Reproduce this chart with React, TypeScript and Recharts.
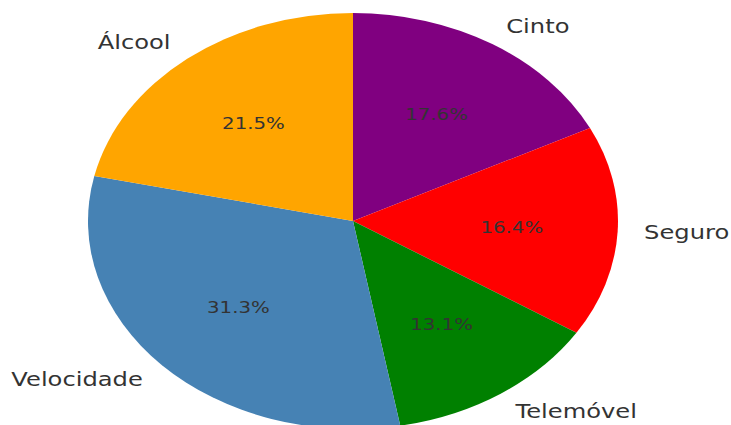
import React from 'react';
import { PieChart, Pie, Cell } from 'recharts';

const causes = ['Cinto', 'Seguro', 'Telemóvel', 'Velocidade', 'Álcool'];
const shares = [17.6, 16.4, 13.1, 31.3, 21.5];
const COLORS = ['#800080', '#ff0000', '#008000', '#4682b4', '#ffa500'];

const data = causes.map((name, i) => ({ name, value: shares[i] }));

// the original figure is stretched sideways, so the whole svg gets scaled on x
const SX = 1.274;
const W = 731;
const H = 425;
const RADIAN = Math.PI / 180;

const renderLabel = (props: any) => {
  const { cx, cy, midAngle, outerRadius, name, value } = props;
  const cos = Math.cos(-midAngle * RADIAN);
  const sin = Math.sin(-midAngle * RADIAN);
  const lx = cx + outerRadius * 1.1 * cos;
  const ly = cy + outerRadius * 1.1 * sin;
  const px = cx + outerRadius * 0.6 * cos;
  const py = cy + outerRadius * 0.6 * sin;
  return (
    <g>
      <text
        x={lx}
        y={ly}
        fill="#333"
        fontSize={19}
        fontFamily="DejaVu Sans"
        textAnchor={lx > cx ? 'start' : 'end'}
        dominantBaseline="central"
      >
        {name}
      </text>
      <text
        x={px}
        y={py}
        fill="#333"
        fontSize={15.5}
        fontFamily="DejaVu Sans"
        textAnchor="middle"
        dominantBaseline="central"
      >
        {value.toFixed(1)}%
      </text>
    </g>
  );
};

export default function App() {
  return (
    <div
      style={{
        position: 'absolute',
        left: 0,
        top: 0,
        width: W,
        height: H,
        overflow: 'hidden',
        background: '#fff',
      }}
    >
      <div style={{ transform: `scaleX(${SX})`, transformOrigin: '0 0', width: W / SX, height: H }}>
        <PieChart width={W / SX} height={H} margin={{ top: 0, right: 0, bottom: 0, left: 0 }}>
          <Pie
            data={data}
            dataKey="value"
            nameKey="name"
            cx={353 / SX}
            cy={221}
            outerRadius={208}
            startAngle={90}
            endAngle={-270}
            stroke="none"
            labelLine={false}
            label={renderLabel}
            isAnimationActive={false}
          >
            {data.map((entry, idx) => (
              <Cell key={entry.name} fill={COLORS[idx]} />
            ))}
          </Pie>
        </PieChart>
      </div>
    </div>
  );
}
